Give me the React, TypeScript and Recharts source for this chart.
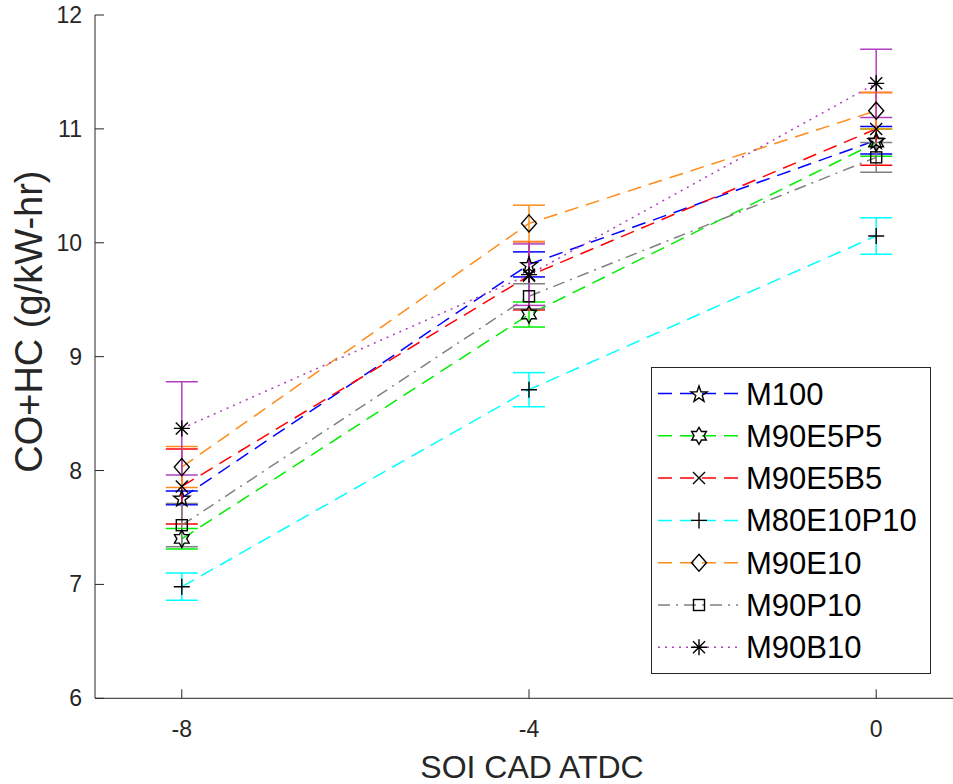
import React from "react";
import { LineChart, Line, XAxis, YAxis, ErrorBar, Legend } from "recharts";

// SOI (CAD ATDC) positions
const soi = [-8, -4, 0];
const xTicks = [-8, -4, 0];
const yTicks = [6, 7, 8, 9, 10, 11, 12];

const seriesNames = ["M100", "M90E5P5", "M90E5B5", "M80E10P10", "M90E10", "M90P10", "M90B10"];

// CO+HC (g/kW-hr) means
const m100 = [7.76, 9.81, 10.9];
const m90e5p5 = [7.4, 9.37, 10.88];
const m90e5b5 = [7.86, 9.71, 11.0];
const m80e10p10 = [6.98, 8.71, 10.06];
const m90e10 = [8.03, 10.17, 11.16];
const m90p10 = [7.52, 9.53, 10.75];
const m90b10 = [8.37, 9.72, 11.4];

// +/- error
const errM100 = [0.06, 0.11, 0.12];
const errM90e5p5 = [0.09, 0.11, 0.12];
const errM90e5b5 = [0.33, 0.3, 0.32];
const errM80e10p10 = [0.12, 0.15, 0.16];
const errM90e10 = [0.18, 0.16, 0.16];
const errM90p10 = [0.19, 0.11, 0.13];
const errM90b10 = [0.41, 0.27, 0.3];

const values = [m100, m90e5p5, m90e5b5, m80e10p10, m90e10, m90p10, m90b10];
const errors = [errM100, errM90e5p5, errM90e5b5, errM80e10p10, errM90e10, errM90p10, errM90b10];

type Shape = "pentagram" | "hexagram" | "x" | "plus" | "diamond" | "square" | "asterisk";

const styles: { color: string; dash: string; shape: Shape }[] = [
  { color: "#0000ff", dash: "14 8", shape: "pentagram" },
  { color: "#00ee00", dash: "14 8", shape: "hexagram" },
  { color: "#ff0000", dash: "14 8", shape: "x" },
  { color: "#00ffff", dash: "14 8", shape: "plus" },
  { color: "#ff8c1a", dash: "14 8", shape: "diamond" },
  { color: "#808080", dash: "12 6 2 6", shape: "square" },
  { color: "#b040c0", dash: "2 5", shape: "asterisk" },
];

const data = soi.map((x, i) => {
  const row: Record<string, number> = { soi: x };
  seriesNames.forEach((name, s) => {
    row[name] = values[s][i];
    row[name + "_err"] = errors[s][i];
  });
  return row;
});

const FONT = "'Liberation Sans', Arial, Helvetica, sans-serif";
const AXIS = "#262626";

function starPath(cx: number, cy: number, points: number, outer: number, inner: number) {
  const pts: string[] = [];
  for (let k = 0; k < points * 2; k++) {
    const r = k % 2 === 0 ? outer : inner;
    const a = -Math.PI / 2 + (k * Math.PI) / points;
    pts.push(`${(cx + r * Math.cos(a)).toFixed(2)},${(cy + r * Math.sin(a)).toFixed(2)}`);
  }
  return "M" + pts.join("L") + "Z";
}

function Marker({ shape, cx, cy }: { shape: Shape; cx: number; cy: number }) {
  const p = { stroke: "#000", strokeWidth: 1.4, fill: "none" };
  switch (shape) {
    case "pentagram":
      return <path d={starPath(cx, cy + 1, 5, 8.5, 3.4)} {...p} />;
    case "hexagram":
      return <path d={starPath(cx, cy, 6, 8.5, 4.9)} {...p} />;
    case "x":
      return <path d={`M${cx - 6},${cy - 6}L${cx + 6},${cy + 6}M${cx - 6},${cy + 6}L${cx + 6},${cy - 6}`} {...p} />;
    case "plus":
      return <path d={`M${cx - 8},${cy}L${cx + 8},${cy}M${cx},${cy - 8}L${cx},${cy + 8}`} {...p} />;
    case "diamond":
      return <path d={`M${cx},${cy - 8.5}L${cx + 7.5},${cy}L${cx},${cy + 8.5}L${cx - 7.5},${cy}Z`} {...p} />;
    case "square":
      return <rect x={cx - 5.5} y={cy - 5.5} width={11} height={11} {...p} />;
    case "asterisk":
      return (
        <path
          d={`M${cx - 8},${cy}L${cx + 8},${cy}M${cx},${cy - 8}L${cx},${cy + 8}M${cx - 6},${cy - 6}L${cx + 6},${cy + 6}M${cx - 6},${cy + 6}L${cx + 6},${cy - 6}`}
          {...p}
        />
      );
  }
}

const dotFor = (shape: Shape) => (props: any) => {
  const { cx, cy, index } = props;
  if (cx == null || cy == null) return <g key={`${shape}-${index}`} />;
  return (
    <g key={`${shape}-${index}`}>
      <Marker shape={shape} cx={cx} cy={cy} />
    </g>
  );
};

const BottomTick = ({ x, y, payload }: any) => (
  <g>
    <line x1={x} x2={x} y1={y} y2={y - 9} stroke={AXIS} strokeWidth={1} />
    <text x={x} y={y + 39} textAnchor="middle" fontSize={23} fontFamily={FONT} fill={AXIS}>
      {payload.value}
    </text>
  </g>
);

const TopTick = ({ x, y }: any) => <line x1={x} x2={x} y1={y} y2={y + 9} stroke={AXIS} strokeWidth={1} />;

const LeftTick = ({ x, y, payload }: any) => (
  <g>
    <line x1={x} x2={x + 9} y1={y} y2={y} stroke={AXIS} strokeWidth={1} />
    <text x={x - 13} y={y} dy={8} textAnchor="end" fontSize={23} fontFamily={FONT} fill={AXIS}>
      {payload.value}
    </text>
  </g>
);

function LegendBox() {
  const w = 279;
  const h = 306;
  return (
    <svg width={w + 2} height={h + 2} style={{ display: "block" }}>
      <rect x={0.5} y={0.5} width={w} height={h} fill="#fff" stroke={AXIS} strokeWidth={1} />
      {seriesNames.map((name, i) => {
        const st = styles[i];
        const cy = 26.5 + i * 42.3;
        return (
          <g key={name}>
            <line x1={7} x2={87} y1={cy} y2={cy} stroke={st.color} strokeWidth={1.5} strokeDasharray={st.dash} />
            <Marker shape={st.shape} cx={48} cy={cy} />
            <text x={95} y={cy + 11} fontSize={31} fontFamily={FONT} fill="#000">
              {name}
            </text>
          </g>
        );
      })}
    </svg>
  );
}

export default function App() {
  return (
    <div style={{ position: "fixed", left: 0, top: 0, width: 953, height: 784, overflow: "hidden", background: "#fff" }}>
      <LineChart width={975} height={784} data={data} margin={{ top: 15, right: 12, bottom: 0, left: 0 }}>
        <XAxis
          xAxisId="top"
          orientation="top"
          type="number"
          dataKey="soi"
          domain={[-9, 1]}
          ticks={xTicks}
          height={0}
          tickSize={0}
          tickMargin={0}
          tickLine={false}
          axisLine={{ stroke: AXIS, strokeWidth: 1 }}
          tick={<TopTick />}
        />
        <XAxis
          type="number"
          dataKey="soi"
          domain={[-9, 1]}
          ticks={xTicks}
          height={85.7}
          tickSize={0}
          tickMargin={0}
          tickLine={false}
          axisLine={{ stroke: AXIS, strokeWidth: 1 }}
          tick={<BottomTick />}
          label={{
            content: (props: any) => {
              const vb = props.viewBox;
              return (
                <text x={vb.x + vb.width / 2 + 3} y={778} textAnchor="middle" fontSize={32} fontFamily={FONT} fill={AXIS}>
                  SOI CAD ATDC
                </text>
              );
            },
          }}
        />
        <YAxis
          type="number"
          domain={[6, 12]}
          ticks={yTicks}
          width={95}
          tickSize={0}
          tickMargin={0}
          tickLine={false}
          axisLine={{ stroke: AXIS, strokeWidth: 1 }}
          tick={<LeftTick />}
          label={{
            content: (props: any) => {
              const vb = props.viewBox;
              const cy = vb.y + vb.height / 2 - 35;
              return (
                <text
                  transform={`translate(42,${cy}) rotate(-90)`}
                  textAnchor="middle"
                  fontSize={38}
                  fontFamily={FONT}
                  fill={AXIS}
                >
                  CO+HC (g/kW-hr)
                </text>
              );
            },
          }}
        />
        {seriesNames.map((name, i) => (
          <Line
            key={name}
            dataKey={name}
            type="linear"
            stroke={styles[i].color}
            strokeWidth={1.5}
            strokeDasharray={styles[i].dash}
            dot={dotFor(styles[i].shape)}
            activeDot={false}
            isAnimationActive={false}
          >
            <ErrorBar
              dataKey={name + "_err"}
              width={16}
              stroke={styles[i].color}
              strokeWidth={1.5}
              direction="y"
              isAnimationActive={false}
            />
          </Line>
        ))}
        <Legend
          layout="vertical"
          align="center"
          verticalAlign="middle"
          wrapperStyle={{ position: "absolute", left: 651, top: 367, width: 281, height: 308 }}
          content={() => <LegendBox />}
        />
      </LineChart>
    </div>
  );
}
